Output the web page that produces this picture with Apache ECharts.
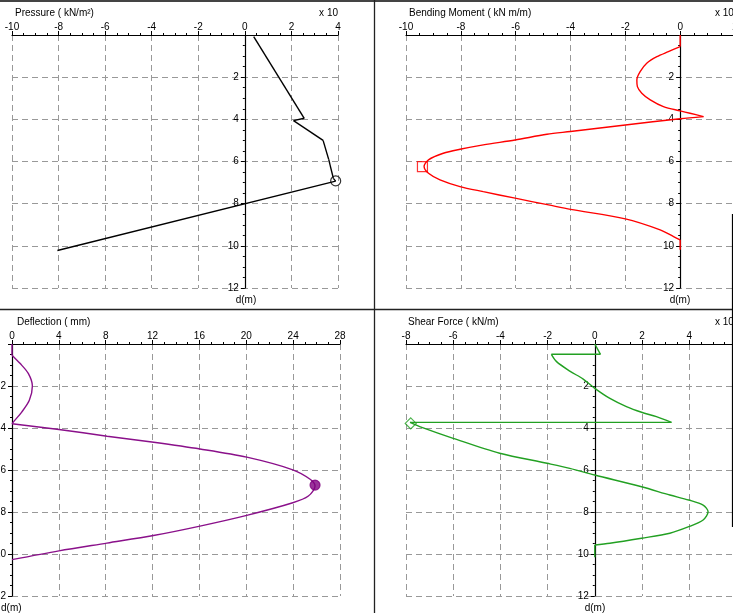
<!DOCTYPE html>
<html><head><meta charset="utf-8">
<script src="https://cdn.jsdelivr.net/npm/echarts@6/dist/echarts.min.js"></script>
<style>html,body{margin:0;padding:0;background:#fff}#c{width:733px;height:613px}</style>
</head><body><div id="c"></div>
<script>
// ---- Pressure (x10 kN/m2) vs depth d(m)
const pressureValue = [0.38, 2.55, 2.09, 3.36, 3.6, 3.8, 3.9, -8.05];
const pressureDepth = [0.08, 3.95, 4.06, 5.0, 5.9, 6.8, 6.93, 10.22];
const pressureBreaks = [0, 1, 2, 3, 4, 5, 6, 7];
const pressureMark = [3.9, 6.92];
// ---- Bending moment (x10 kN m/m)
const momentValue = [0, 0, -0.43, -0.85, -1.22, -1.46, -1.58, -1.56, -1.40, -1.09, -0.61, 0, 0.36, 0.85, 0, -2.0, -4.0, -4.86, -6.02, -7.18, -8.03, -8.64, -9.18, -9.34, -9.18, -8.76, -8.03, -7.18, -6.02, -4.8, -4.0, -2.0, -0.73, -0.24, 0, 0];
const momentDepth = [0, 0.55, 0.79, 1.03, 1.34, 1.74, 2.13, 2.45, 2.76, 3.08, 3.40, 3.6, 3.71, 3.87, 3.97, 4.27, 4.58, 4.71, 4.98, 5.21, 5.42, 5.61, 5.92, 6.24, 6.56, 6.87, 7.19, 7.43, 7.74, 8.06, 8.27, 8.72, 9.24, 9.56, 9.72, 10.19];
const momentBreaks = [0, 1, 13, 34, 35];
const momentMark = [-9.4, 6.24];
// ---- Deflection (mm)
const deflValue = [0, 0, 0.68, 1.39, 1.74, 1.48, 0.83, 0.11, 0, 4.01, 8.12, 12.1, 16.05, 20.04, 23.97, 25.45, 25.87, 25.3, 23.97, 20.04, 16.05, 12.07, 8.1, 4.01, 0];
const deflDepth = [0, 0.53, 0.92, 1.40, 2.0, 2.68, 3.24, 3.72, 3.8, 4.07, 4.39, 4.68, 5.0, 5.39, 5.99, 6.44, 6.76, 7.24, 7.56, 8.16, 8.67, 9.12, 9.48, 9.85, 10.27];
const deflBreaks = [0, 1, 8, 24];
const deflMark = [25.87, 6.72];
// ---- Shear force (x10 kN/m)
const shearValue = [0, 0.24, -1.84, -1.62, -1.06, -0.49, 0, 0.64, 1.34, 1.98, 2.61, 3.25, -7.83, -7.3, -6.0, -4.03, -2.02, -1.06, 0, 1.98, 3.18, 3.98, 4.59, 4.8, 4.59, 3.98, 3.18, 1.98, 0.64, 0, 0];
const shearDepth = [0, 0.49, 0.49, 0.84, 1.29, 1.67, 2.11, 2.59, 2.98, 3.25, 3.46, 3.73, 3.73, 3.98, 4.49, 5.2, 5.68, 5.92, 6.24, 6.8, 7.19, 7.43, 7.67, 7.99, 8.38, 8.7, 9.01, 9.25, 9.49, 9.57, 10.16];
const shearBreaks = [0, 1, 2, 11, 12, 29, 30];
const shearMark = [-7.8, 3.78];
// ---- axis ranges [min, max, interval]
const xRanges = [[-10, 4, 2], [-10, 2, 2], [0, 28, 4], [-8, 6, 2]];
const depthRange = [0, 12, 2];
const titles = ['Pressure ( kN/m²)', 'Bending Moment ( kN m/m)', 'Deflection ( mm)', 'Shear Force ( kN/m)'];

const zip = (a, b) => a.map((v, i) => [v, b[i]]);
const FONT = '"Liberation Sans", Arial, sans-serif';
const grids = [
  {left: 12, top: 35, width: 326, height: 253},
  {left: 406, top: 35, width: 329, height: 253},
  {left: 12, top: 344, width: 328, height: 252},
  {left: 406, top: 344, width: 330.4, height: 252}
].map(g => Object.assign(g, {containLabel: false, outerBoundsMode: 'none'}));
const split = {show: true, lineStyle: {color: '#999', type: [6, 4], width: 1}};
const xAxes = xRanges.map((r, i) => ({
  type: 'value', gridIndex: i, position: 'top', min: r[0], max: r[1], interval: r[2],
  axisLine: {show: true, onZero: true, lineStyle: {color: '#000', width: 1.2}},
  axisTick: {show: true, length: 4, lineStyle: {color: '#000'}},
  minorTick: {show: true, splitNumber: 4, length: 2, lineStyle: {color: '#000'}},
  axisLabel: {color: '#000', fontSize: 10, fontFamily: FONT, margin: 3, showMinLabel: true, showMaxLabel: true},
  splitLine: split
}));
const yAxes = grids.map((g, i) => {
  const r = xRanges[i];
  const zeroShift = g.width * (0 - r[0]) / (r[1] - r[0]);
  return {
    type: 'value', gridIndex: i, inverse: true, min: depthRange[0], max: depthRange[1], interval: depthRange[2],
    position: 'left', offset: -zeroShift,
    axisLine: {show: true, onZero: false, lineStyle: {color: '#000', width: 1.2}},
    axisTick: {show: true, length: 4, lineStyle: {color: '#000'}},
    minorTick: {show: true, splitNumber: 4, length: 2, lineStyle: {color: '#000'}},
    axisLabel: {color: '#000', fontSize: 10, fontFamily: FONT, margin: 6, formatter: v => v === 0 ? '' : String(v)},
    splitLine: split
  };
});
function pieces(i, xs, ds, breaks, color) {
  const pts = zip(xs, ds);
  const out = [];
  for (let k = 0; k < breaks.length - 1; k++) {
    const seg = pts.slice(breaks[k], breaks[k + 1] + 1);
    out.push({
      type: 'line', xAxisIndex: i, yAxisIndex: i, data: seg, showSymbol: false,
      smooth: seg.length > 2 ? 0.3 : false,
      lineStyle: {color: color, width: 1.4}, silent: true, animation: false, z: 3
    });
  }
  return out;
}
const markSeries = (i, pt, symbol, color, fill, size) => ({
  type: 'scatter', xAxisIndex: i, yAxisIndex: i, data: [pt], symbol: symbol, symbolSize: size || 10,
  itemStyle: {color: fill, borderColor: color, borderWidth: 1.2}, silent: true, animation: false, z: 4
});
const txt = (text, x, y, align) => ({type: 'text', x: x, y: y, z: 10,
  style: {text: text, fontSize: 10, fontFamily: FONT, fill: '#000', align: align || 'left', verticalAlign: 'top'}});
const ln = (x1, y1, x2, y2, w, c) => ({type: 'line', z: 10, shape: {x1, y1, x2, y2}, style: {stroke: c || '#222', lineWidth: w || 1.2}});

const option = {
  backgroundColor: '#fff',
  animation: false,
  grid: grids,
  xAxis: xAxes,
  yAxis: yAxes,
  series: [].concat(
    pieces(0, pressureValue, pressureDepth, pressureBreaks, '#000'),
    [markSeries(0, pressureMark, 'circle', '#000', 'rgba(0,0,0,0)')],
    pieces(1, momentValue, momentDepth, momentBreaks, '#ff0000'),
    [markSeries(1, momentMark, 'rect', '#ff0000', 'rgba(0,0,0,0)')],
    pieces(2, deflValue, deflDepth, deflBreaks, '#8a108a'),
    [markSeries(2, deflMark, 'circle', '#800080', '#800080')],
    pieces(3, shearValue, shearDepth, shearBreaks, '#22a022'),
    [markSeries(3, shearMark, 'diamond', '#22a022', 'rgba(0,0,0,0)', 11)]
  ),
  graphic: [
    txt(titles[0], 15, 8), txt('x 10', 338, 8, 'right'),
    txt(titles[1], 409, 8), txt('x 10', 715, 8),
    txt(titles[2], 17, 317),
    txt(titles[3], 408, 317), txt('x 10', 715, 317),
    txt('d(m)', 246, 295, 'center'), txt('d(m)', 680, 295, 'center'),
    txt('d(m)', 1, 603), txt('d(m)', 595, 603, 'center'),
    ln(0, 1, 733, 1, 2, '#444'),
    ln(374.5, 0, 374.5, 613, 1.3),
    ln(0, 309.5, 733, 309.5, 1.3),
    ln(732.5, 214, 732.5, 527, 1.2, '#000'),
    ln(732, 214.5, 733, 214.5, 1.2, '#000'),
    ln(732, 526.5, 733, 526.5, 1.2, '#000')
  ]
};
const chart = echarts.init(document.getElementById('c'), null, {renderer: 'canvas'});
chart.setOption(option);
</script></body></html>
